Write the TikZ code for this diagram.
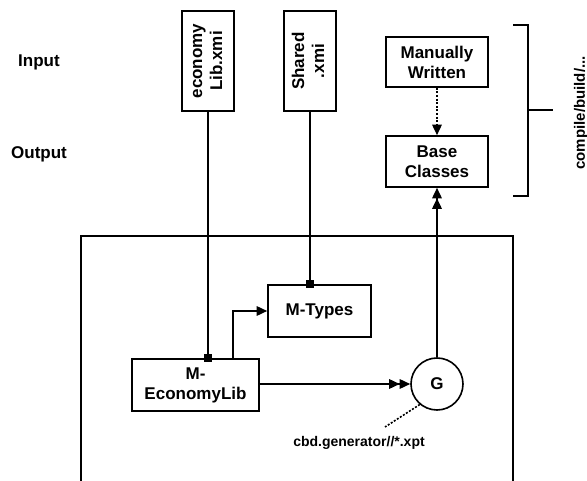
\documentclass[tikz,border=0pt]{standalone}
\usepackage{fontspec}
\setmainfont{Liberation Sans}
\usetikzlibrary{arrows.meta,calc}
\begin{document}
\begin{tikzpicture}[x=1pt,y=-1pt,
  line width=1.6pt,
  box/.style={draw,rectangle,line width=1.6pt,align=center,inner sep=0pt,
    font=\fontsize{17}{20}\selectfont\bfseries},
  lbl/.style={font=\fontsize{17}{20}\selectfont\bfseries,inner sep=0pt},
  small/.style={font=\fontsize{14}{16}\selectfont\bfseries,inner sep=0pt},
  tip/.style={-{Triangle[length=10.5pt,width=9.5pt]}},
  dtip/.style={-{Triangle[length=10.5pt,width=9.5pt]Triangle[length=10.5pt,width=9.5pt]}},
  dots/.style={dash pattern=on 2pt off 1.6pt},
  sq/.style={fill,rectangle,minimum size=8.5pt,inner sep=0pt}]
\useasboundingbox (0,0) rectangle (587,481);
% frame
\draw (81,490) -- (81,236) -- (513,236) -- (513,490);
% labels
\node[lbl] (in) at (39,62) {Input};
\node[lbl] (out) at (39,154) {Output};
% input files
\node[box,minimum width=52pt,minimum height=100pt] (ex) at (208,61)
  {\rotatebox{90}{\begin{tabular}{@{}c@{}}economy\\Lib.xmi\end{tabular}}};
\node[box,minimum width=52pt,minimum height=100pt] (sx) at (310,61)
  {\rotatebox{90}{\begin{tabular}{@{}c@{}}Shared\\.xmi\end{tabular}}};
% right boxes
\node[box,minimum width=102pt,minimum height=50pt] (mw) at (437,62) {Manually\\Written};
\node[box,minimum width=102pt,minimum height=51pt] (bc) at (437,161.5) {Base\\Classes};
% bracket
\coordinate (bt) at (513,25);
\coordinate (bb) at (513,196);
\coordinate (bm) at (528,110);
\coordinate (be) at (553,110);
\draw (bt) -- (528,25) -- (528,196) -- (bb);
\draw (bm) -- (be);
\node[small,rotate=90,font=\fontsize{15}{17}\selectfont\bfseries] (cb) at (581,113) {compile/build/...};
% inner boxes
\node[box,minimum width=103pt,minimum height=52pt] (mt) at (319.5,311) {M-Types};
\node[box,minimum width=127pt,minimum height=52pt] (el) at (195.5,385) {M-\\EconomyLib};
\node[draw,circle,minimum size=52pt,inner sep=0pt,line width=1.6pt,lbl] (g) at (437,384) {G};
\node[small] (gen) at (359,443) {cbd.generator//*.xpt};
\coordinate (gd) at (385,427);
% connectors
\coordinate (e1) at (ex.south |- el.north);
\draw (ex.south) -- (e1);
\node[sq] at (e1) {};
\coordinate (s1) at (sx.south |- mt.north);
\draw (sx.south) -- (s1);
\node[sq] at (s1) {};
\coordinate (e2) at ($(el.north)+(37.5,0)$);
\draw[tip] (e2) |- (mt.west);
\draw[dtip] (el.east |- g.west) -- (g.west);
\draw[dtip] (g.north) -- (bc.south);
\draw[tip,dots] (mw.south) -- (bc.north);
\draw[dots] (g.-130) -- (gd);
\end{tikzpicture}
\end{document}
